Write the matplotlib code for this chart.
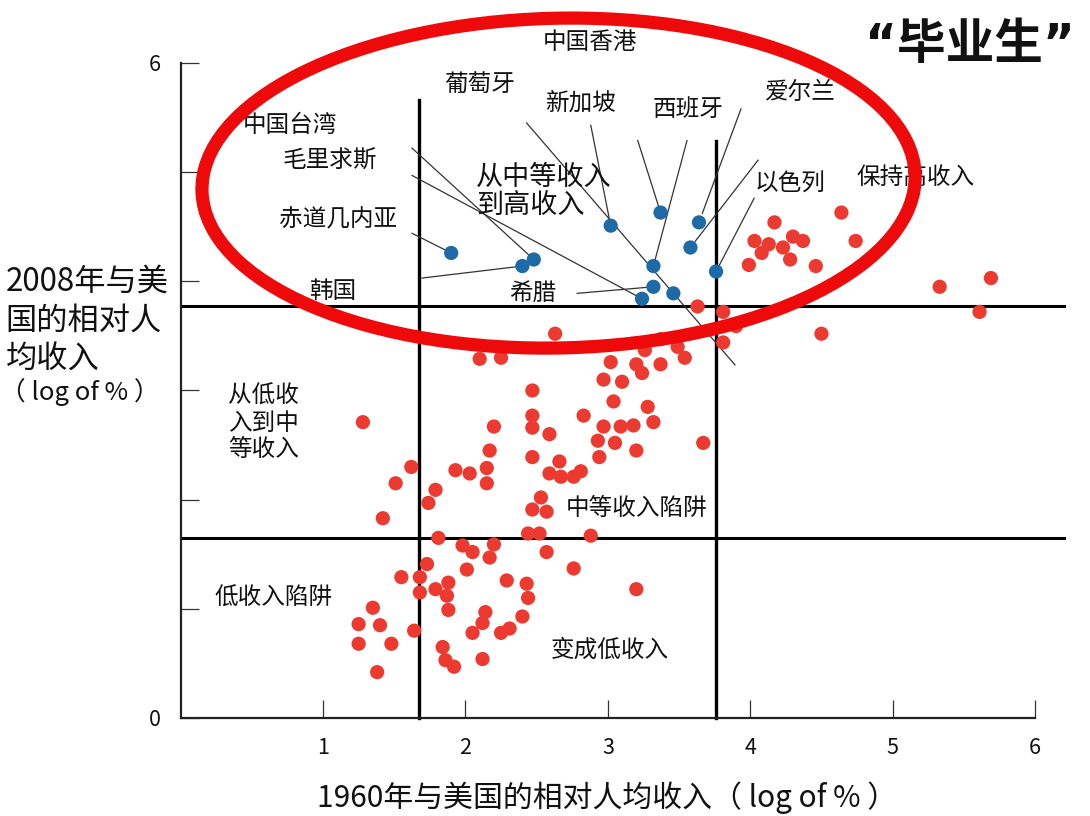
import matplotlib
matplotlib.use("Agg")
import matplotlib.pyplot as plt
from matplotlib.patches import Ellipse
import numpy as np

plt.rcParams['font.family'] = ['Noto Sans CJK SC', 'DejaVu Sans']

# ---------------- data ----------------
x_ticks = [1, 2, 3, 4, 5, 6]
y_ticks = [0, 1, 2, 3, 4, 5, 6]
y_tick_labels = ['0', '', '', '', '', '', '6']

# "graduates": middle -> high income (blue)
blue_x = [1.90, 2.40, 2.48, 3.02, 3.37, 3.64, 3.58, 3.32, 3.76, 3.32, 3.46, 3.24]
blue_y = [4.26, 4.14, 4.20, 4.51, 4.63, 4.54, 4.31, 4.14, 4.09, 3.95, 3.89, 3.84]

# all other economies (red)
red_x = [4.17, 4.64, 4.03, 4.13, 4.08, 4.23, 4.30, 4.37, 4.28, 3.99,
         4.46, 4.74, 5.33, 5.69, 5.61, 4.50, 3.63, 3.81, 3.90, 3.81,
         3.37, 3.49, 3.26, 2.63, 2.10, 2.25, 3.02, 3.20, 3.24, 3.37,
         3.54, 2.97, 3.10, 2.47, 3.04, 3.28, 2.83, 2.47, 2.97, 3.09,
         3.18, 3.32, 2.47, 2.59, 2.93, 3.05, 3.67, 3.20, 2.94, 1.28,
         2.20, 2.17, 2.47, 2.66, 2.59, 2.67, 2.76, 2.81, 1.93, 2.03,
         2.15, 2.15, 1.62, 1.51, 1.42, 1.79, 1.74, 2.53, 2.47, 2.57,
         2.44, 2.52, 2.88, 1.81, 1.98, 2.05, 2.20, 2.17, 2.57, 1.73,
         2.01, 1.55, 1.68, 1.68, 1.79, 1.88, 1.87, 1.88, 2.29, 2.43,
         2.44, 2.76, 3.20, 1.35, 1.25, 1.40, 1.25, 1.48, 1.38, 1.64,
         1.84, 1.86, 1.92, 2.12, 2.14, 2.12, 2.05, 2.25, 2.31, 2.40]
red_y = [4.54, 4.63, 4.37, 4.34, 4.26, 4.31, 4.41, 4.37, 4.20, 4.15,
         4.14, 4.37, 3.95, 4.03, 3.72, 3.52, 3.77, 3.72, 3.59, 3.44,
         3.47, 3.40, 3.37, 3.52, 3.29, 3.30, 3.26, 3.24, 3.16, 3.24,
         3.30, 3.10, 3.08, 3.00, 2.90, 2.85, 2.77, 2.77, 2.67, 2.67,
         2.68, 2.71, 2.66, 2.60, 2.54, 2.52, 2.52, 2.45, 2.39, 2.71,
         2.67, 2.45, 2.39, 2.35, 2.24, 2.21, 2.21, 2.26, 2.27, 2.24,
         2.29, 2.15, 2.30, 2.15, 1.83, 2.09, 1.97, 2.02, 1.91, 1.89,
         1.69, 1.69, 1.67, 1.65, 1.58, 1.52, 1.59, 1.47, 1.52, 1.41,
         1.36, 1.29, 1.29, 1.15, 1.18, 1.24, 1.12, 0.99, 1.26, 1.23,
         1.10, 1.37, 1.18, 1.01, 0.86, 0.85, 0.68, 0.68, 0.42, 0.80,
         0.65, 0.53, 0.47, 0.54, 0.97, 0.87, 0.78, 0.78, 0.82, 0.93]

# quadrant thresholds
x_low, x_high = 1.675, 3.76
y_low, y_high = 1.65, 3.77

# ---------------- figure ----------------
fig = plt.figure(figsize=(10.9, 8.16), dpi=100)
ax = fig.add_axes([0.1657, 0.1201, 0.7839, 0.8027])
ax.set_xlim(0, 6)
ax.set_ylim(0, 6)

for s in ['top', 'right']:
    ax.spines[s].set_visible(False)
for s in ['left', 'bottom']:
    ax.spines[s].set_color('#222222')
    ax.spines[s].set_linewidth(1.6)

ax.set_xticks(x_ticks)
ax.set_yticks(y_ticks)
ax.set_yticklabels(y_tick_labels)
ax.tick_params(axis='both', direction='in', length=13, width=0.9,
               colors='#333333', labelsize=15.5, pad=14)
ax.tick_params(axis='both', labelcolor='#111111')

# quadrant lines
ax.plot([0, 6.2], [y_high, y_high], color='black', lw=2.2, clip_on=False, zorder=2)
ax.plot([0, 6.2], [y_low, y_low], color='black', lw=2.2, clip_on=False, zorder=2)
ax.plot([x_low, x_low], [0, 5.66], color='black', lw=2.4, clip_on=False, zorder=2)
ax.plot([x_high, x_high], [0, 5.29], color='black', lw=2.4, clip_on=False, zorder=2)

# points
ax.scatter(red_x, red_y, s=105, color='#EC3A30', edgecolors='none', zorder=4, clip_on=False)
ax.scatter(blue_x, blue_y, s=105, color='#1D6AA6', edgecolors='none', zorder=5)

# leader lines: (start, index of blue point, extension factor)
leaders = [((1.625, 4.44), 0, 0.88),
           ((1.695, 4.03), 1, 0.97),
           ((1.625, 5.22), 2, 0.97),
           ((1.625, 4.97), 11, 0.98),
           ((2.43, 5.45), 10, 1.42),
           ((2.785, 3.89), 9, 0.95),
           ((2.88, 5.43), 3, 0.93),
           ((3.21, 5.29), 4, 0.92),
           ((3.556, 5.29), 7, 0.95),
           ((3.935, 5.58), 5, 0.92),
           ((4.055, 5.11), 6, 0.93),
           ((4.027, 4.76), 8, 0.93)]
for (sx, sy), idx, ext in leaders:
    tx, ty = blue_x[idx], blue_y[idx]
    ex, ey = sx + (tx - sx) * ext, sy + (ty - sy) * ext
    ax.plot([sx, ex], [sy, ey], color='#333333', lw=0.9, zorder=3, clip_on=False)

# labels
lab = dict(fontsize=17, color='#111111', ha='center', va='center', zorder=6)
ax.text(2.875, 6.19, '中国香港', clip_on=False, **lab)
ax.text(2.10, 5.80, '葡萄牙', **lab)
ax.text(2.81, 5.63, '新加坡', **lab)
ax.text(3.56, 5.57, '西班牙', **lab)
ax.text(4.35, 5.73, '爱尔兰', **lab)
ax.text(0.77, 5.43, '中国台湾', **lab)
ax.text(1.05, 5.10, '毛里求斯', **lab)
ax.text(1.105, 4.56, '赤道几内亚', **lab)
ax.text(1.065, 3.91, '韩国', **lab)
ax.text(2.475, 3.89, '希腊', **lab)
ax.text(4.28, 4.90, '以色列', **lab)
ax.text(5.16, 4.95, '保持高收入', **lab)
ax.text(3.20, 1.92, '中等收入陷阱', **lab)
ax.text(0.65, 1.10, '低收入陷阱', **lab)
ax.text(3.015, 0.62, '变成低收入', **lab)
ax.text(2.075, 4.82, '从中等收入\n到高收入', fontsize=19.5, color='#111111',
        ha='left', va='center', linespacing=1.05, zorder=6)
ax.text(0.335, 2.70, '从低收\n入到中\n等收入', fontsize=17, color='#111111',
        ha='left', va='center', linespacing=1.2, zorder=6)

# highlight ellipse
ax.add_patch(Ellipse((2.654, 4.90), 5.01, 3.02, angle=2, fill=False,
                     ec='#EE0A0A', lw=9.5, clip_on=False, zorder=10))

# title / axis labels
fig.text(0.890, 0.945, '“毕业生”', fontsize=35, fontweight='bold',
         family=['DejaVu Sans', 'Noto Sans CJK SC'],
         ha='center', va='center', color='#111111')
fig.text(0.005, 0.607, '2008年与美\n国的相对人\n均收入', fontsize=22.5,
         ha='left', va='center', linespacing=1.3, color='#111111')
fig.text(0.0, 0.519, '（ log of % ）', fontsize=18.5,
         ha='left', va='center', color='#111111')
fig.text(0.557, 0.023, '1960年与美国的相对人均收入（ log of % ）', fontsize=21.5,
         ha='center', va='center', color='#111111')

fig.savefig('out.png', dpi=100)
